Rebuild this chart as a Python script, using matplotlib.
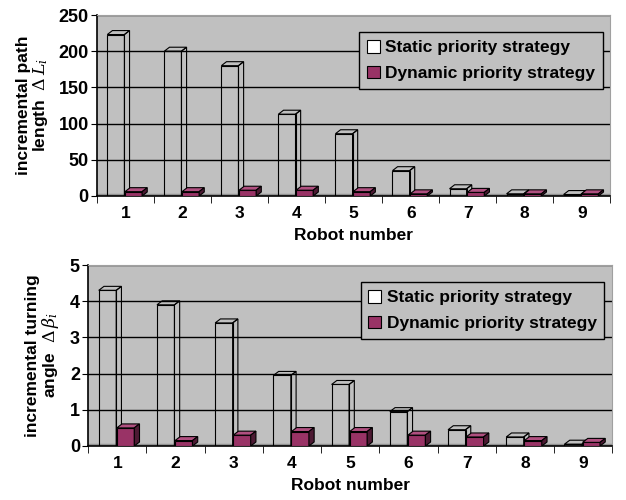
import numpy as np
import matplotlib
matplotlib.use("Agg")
from matplotlib import pyplot as plt
from matplotlib.patches import Polygon, Patch

robots = [1, 2, 3, 4, 5, 6, 7, 8, 9]
path_static = [223, 200, 180, 113, 86, 35, 10, 3, 2]
path_dynamic = [6, 6, 8, 8, 6, 3, 5, 3, 3]
turn_static = [4.3, 3.9, 3.4, 1.95, 1.7, 0.95, 0.45, 0.25, 0.05]
turn_dynamic = [0.5, 0.15, 0.3, 0.4, 0.4, 0.3, 0.25, 0.15, 0.1]

plt.rcParams['font.family'] = ['Liberation Sans', 'DejaVu Sans']
plt.rcParams['font.weight'] = 'bold'
plt.rcParams['axes.labelweight'] = 'bold'
plt.rcParams['mathtext.fontset'] = 'custom'
plt.rcParams['mathtext.rm'] = 'DejaVu Serif:weight=normal'
plt.rcParams['mathtext.it'] = 'DejaVu Serif:italic:weight=normal'

WALL = '#c0c0c0'
PLUM = '#993366'


# bar with a small fake-3D top and side, offsets in data units
def bar3d(ax, x, h, w, face, side, top, dx, dy):
    ax.add_patch(Polygon([(x - w / 2, 0), (x + w / 2, 0), (x + w / 2, h), (x - w / 2, h)],
                         closed=True, facecolor=face, edgecolor='black', lw=0.8, zorder=3))
    ax.add_patch(Polygon([(x - w / 2, h), (x + w / 2, h), (x + w / 2 + dx, h + dy), (x - w / 2 + dx, h + dy)],
                         closed=True, facecolor=top, edgecolor='black', lw=0.8, zorder=3))
    ax.add_patch(Polygon([(x + w / 2, 0), (x + w / 2 + dx, dy), (x + w / 2 + dx, h + dy), (x + w / 2, h)],
                         closed=True, facecolor=side, edgecolor='black', lw=0.8, zorder=3))


def draw_panel(ax, static, dynamic, ymax, step, ylabel):
    ax.set_facecolor(WALL)
    ax.set_xlim(0.5, 9.5)
    ax.set_ylim(0, ymax)
    ax.set_yticks(np.arange(0, ymax + step / 2, step))
    ax.yaxis.grid(True, color='black', lw=1.0, zorder=1)
    ax.set_axisbelow(True)
    ax.axhspan(0, ymax * 0.012, color='#909090', zorder=1.5)
    dy = ymax * 0.022
    for i, r in enumerate(robots):
        bar3d(ax, r - 0.17, static[i], 0.3, 'none', 'none', 'none', 0.09, dy)
        bar3d(ax, r + 0.14, dynamic[i], 0.3, PLUM, '#4d1a33', '#b05080', 0.09, dy)
    ax.set_xticks(robots)
    ax.set_xticks(np.arange(0.5, 9.6, 1), minor=True)
    ax.tick_params(axis='x', which='major', length=0, labelsize=12.5, pad=7)
    ax.tick_params(axis='x', which='minor', length=5, direction='out', color='black')
    ax.tick_params(axis='y', labelsize=13, length=4, direction='out', pad=2)
    for s in ['top', 'right']:
        ax.spines[s].set_color('#a0a0a0')
    for s in ['left', 'bottom']:
        ax.spines[s].set_color('black')
        ax.spines[s].set_linewidth(1.2)
    ax.set_xlabel('Robot number', fontsize=12.5, labelpad=5)
    ax.set_ylabel(ylabel, fontsize=12.5, linespacing=1.0, labelpad=6)
    handles = [Patch(facecolor='white', edgecolor='black', lw=0.8),
               Patch(facecolor=PLUM, edgecolor='black', lw=0.8)]
    leg = ax.legend(handles, ['Static priority strategy', 'Dynamic priority strategy'],
                    loc='upper right', bbox_to_anchor=(0.995, 0.935), fontsize=12.5,
                    handlelength=0.75, handleheight=0.75, handletextpad=0.3,
                    fancybox=False, framealpha=1, facecolor=WALL, edgecolor='black',
                    borderpad=0.45, labelspacing=0.6, borderaxespad=0.3)
    leg.get_frame().set_linewidth(1.0)
    leg.set_zorder(5)


fig = plt.figure(figsize=(6.26, 5.0), dpi=100)
ax1 = fig.add_axes([0.155, 0.608, 0.82, 0.362])
ax2 = fig.add_axes([0.141, 0.108, 0.837, 0.362])

draw_panel(ax1, path_static, path_dynamic, 250, 50,
           'incremental path\nlength  $\\Delta\\,L_i$')
draw_panel(ax2, turn_static, turn_dynamic, 5, 1,
           'incremental turning\nangle  $\\Delta\\,\\beta_i$')

fig.savefig('out.png', dpi=100)
